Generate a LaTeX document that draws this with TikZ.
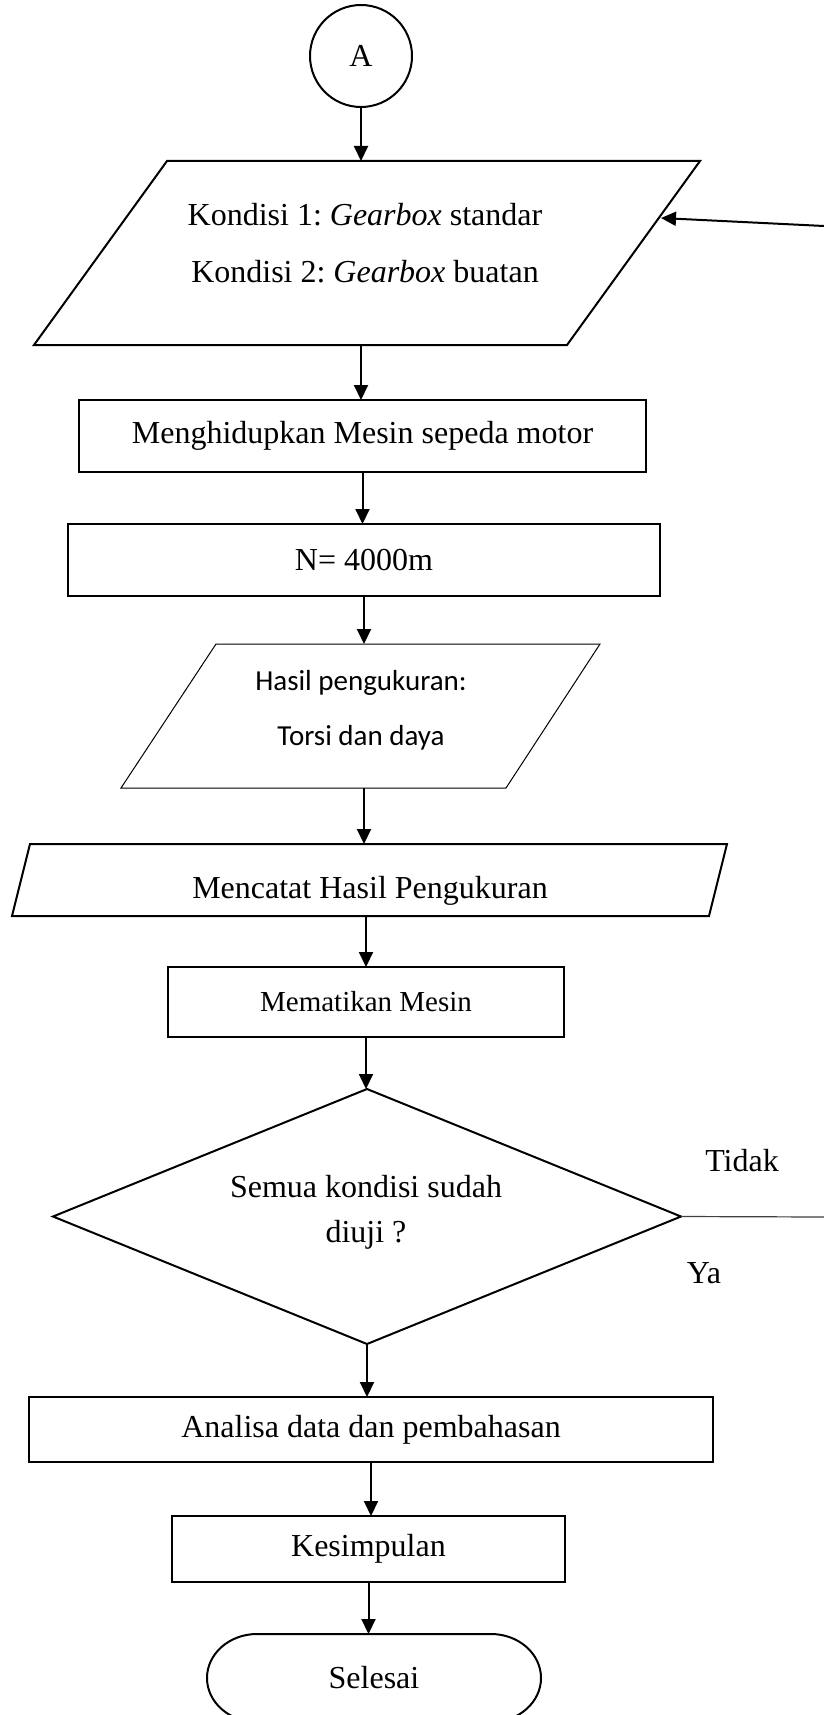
\documentclass[tikz,border=0pt]{standalone}
\usepackage{fontspec}
\setmainfont{Liberation Serif}
\newfontfamily\calibri{Carlito}
\usetikzlibrary{arrows.meta,shapes.geometric}
\frenchspacing
\begin{document}
\begin{tikzpicture}[x=1pt,y=-1pt,
  every node/.style={inner sep=0pt, outer sep=0pt},
  txt/.style={font=\fontsize{32}{38}\selectfont},
  txtsm/.style={font=\fontsize{29}{35}\selectfont},
  cal/.style={font=\calibri\fontsize{29}{55}\selectfont, align=center},
  thick outline/.style={draw=black, line width=2pt},
  thin outline/.style={draw=black, line width=1pt},
  procbox/.style={thick outline, rectangle, align=center},
  frame/.style={rectangle, minimum width=300pt, minimum height=#1},
  arr/.style={-{Triangle[length=15pt,width=14pt]}, line width=2pt},
]
\useasboundingbox (0,0) rectangle (824,1715);
\fill[white] (0,0) rectangle (824,1715);

% connector A
\node[circle, thick outline, minimum size=102pt, txt] (a) at (361,56) {A};

% input parallelogram 1
\node[frame=184pt] (p1) at (361,253) {};
\draw[line width=2pt] (167,161) -- (700,161) -- (567,345) -- (34,345) -- cycle;
\node[txt, font=\fontsize{32}{57}\selectfont, align=center] (t1) at (365,243)
  {Kondisi 1: \textit{Gearbox} standar\\Kondisi 2: \textit{Gearbox} buatan};
\coordinate (p1r) at (661,218);

% process boxes
\node[procbox, txt, minimum width=567pt, minimum height=72pt] (b1) at (362.5,436) {Menghidupkan Mesin sepeda motor};
\node[procbox, txt, minimum width=592pt, minimum height=72pt] (b2) at (364,560) {N= 4000m};

% parallelogram 2
\node[frame=144pt] (p2) at (364,716) {};
\draw[line width=1pt] (216,644) -- (600,644) -- (506,788) -- (121,788) -- cycle;
\node[cal] (t2) at (361,710) {Hasil pengukuran:\\Torsi dan daya};

% parallelogram 3
\node[frame=72pt] (p3) at (366,880) {};
\draw[line width=2pt] (30,844) -- (727,844) -- (709,916) -- (12,916) -- cycle;
\node[txt] (t3) at (370,891) {Mencatat Hasil Pengukuran};

\node[procbox, txtsm, minimum width=396pt, minimum height=70pt] (mem) at (366,1002) {Mematikan Mesin};

% decision
\node[diamond, thick outline, aspect=2.46, minimum width=628pt, minimum height=255pt] (dia) at (367,1216.5) {};
\node[txt, font=\fontsize{32}{45}\selectfont, align=center] (t4) at (366,1212) {Semua kondisi sudah\\diuji ?};
\node[txt] (tidak) at (742,1161) {Tidak};
\node[txt] (ya) at (704,1273) {Ya};
\coordinate (tr) at (824,1217);
\coordinate (fb) at (824,226);

\node[procbox, txt, minimum width=684pt, minimum height=65pt] (ana) at (371,1429.5) {Analisa data dan pembahasan};
\node[procbox, txt, minimum width=393pt, minimum height=66pt] (kes) at (368.5,1549) {Kesimpulan};

% terminator
\node[frame=88pt, txt] (sel) at (374,1678) {Selesai};
\draw[line width=2pt] (257,1634) -- (491,1634)
  arc[start angle=-90, end angle=90, x radius=50, y radius=44]
  -- (257,1722)
  arc[start angle=90, end angle=270, x radius=50, y radius=44] -- cycle;

% connectors
\draw[arr] (a.south) -- (a.south |- p1.north);
\draw[arr] (p1.south) -- (p1.south |- b1.north);
\draw[arr] (b1.south) -- (b1.south |- b2.north);
\draw[arr] (b2.south) -- (b2.south |- p2.north);
\draw[arr] (p2.south) -- (p2.south |- p3.north);
\draw[arr] (p3.south) -- (p3.south |- mem.north);
\draw[arr] (mem.south) -- (mem.south |- dia.north);
\draw[arr] (dia.south) -- (dia.south |- ana.north);
\draw[arr] (ana.south) -- (ana.south |- kes.north);
\draw[arr] (kes.south) -- (kes.south |- sel.north);
\draw[line width=1.2pt, black!75] (dia.east) -- (tr);
\draw[arr] (fb) -- (p1r);
\end{tikzpicture}
\end{document}
